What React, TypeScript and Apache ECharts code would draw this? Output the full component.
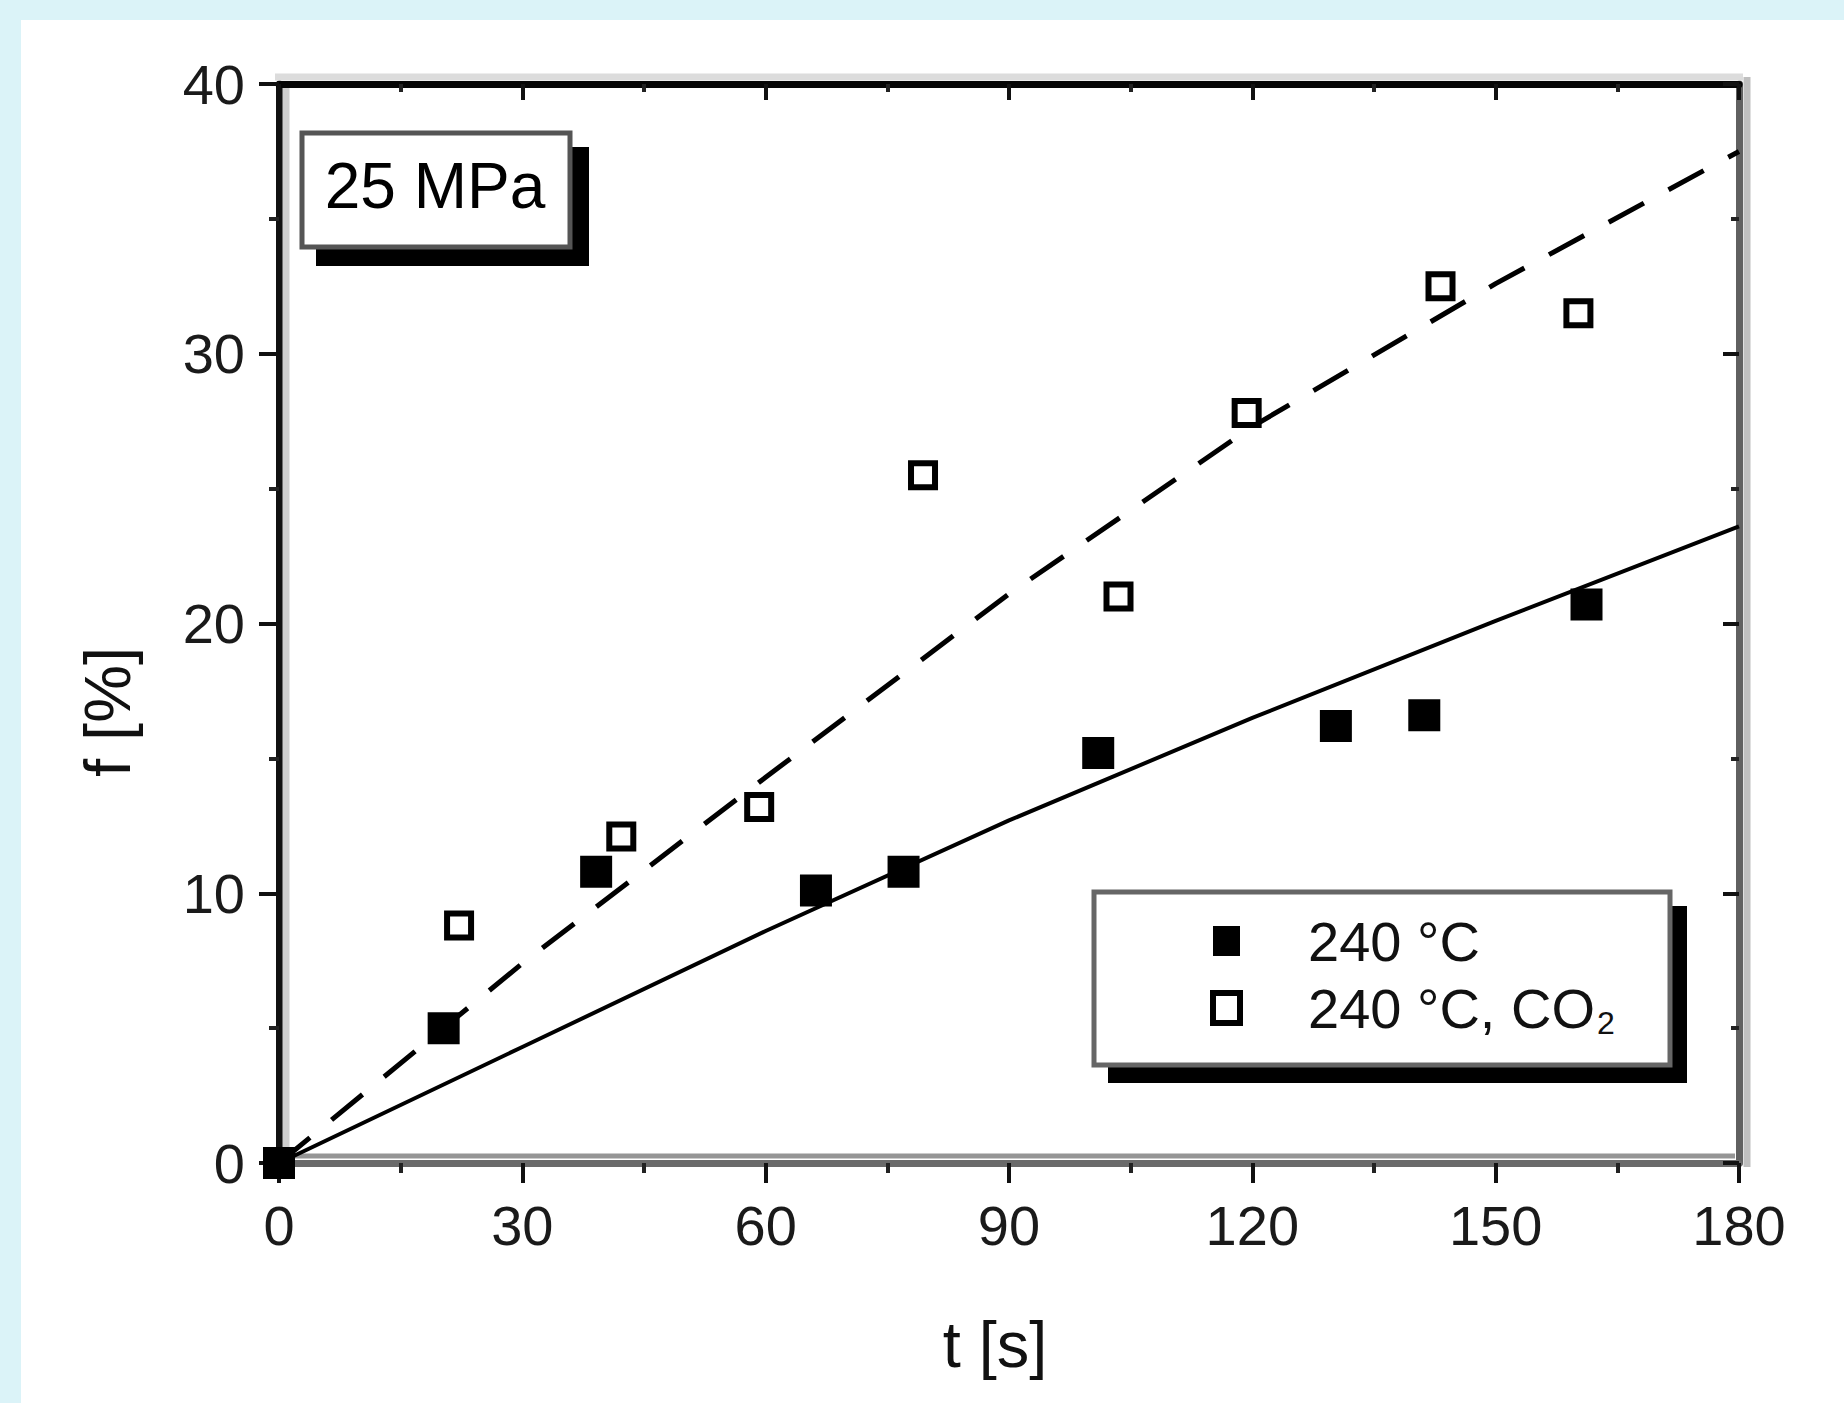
import React, { useEffect, useRef } from "react";
import * as echarts from "echarts";

// ---- data ----
const S1 = "240 °C";
const S2 = "240 °C, CO2";
const tFilled = [0, 20.3, 39.1, 66.2, 77.0, 101.0, 130.3, 141.2, 161.2];
const fFilled = [0, 5.0, 10.8, 10.1, 10.8, 15.2, 16.2, 16.6, 20.7];
const tOpen = [22.2, 42.2, 59.2, 79.4, 103.5, 119.3, 143.2, 160.2];
const fOpen = [8.8, 12.1, 13.2, 25.5, 21.0, 27.8, 32.5, 31.5];
const tLine = [0, 30, 60, 90, 120, 150, 180];
const fSolid = [0, 4.3, 8.6, 12.7, 16.5, 20.1, 23.6];
const fDashed = [0, 7.4, 14.3, 21.1, 27.3, 32.6, 37.5];
const xTicks = { min: 0, max: 180, interval: 30 };
const yTicks = { min: 0, max: 40, interval: 10 };
const xTitle = "t [s]";
const yTitle = "f [%]";
const boxTitle = "25 MPa";

const FONT = "Liberation Sans, Arial, sans-serif";
const pairs = (a: number[], b: number[]) => a.map((v, i) => [v, b[i]]);

export default function App() {
  const ref = useRef<HTMLDivElement>(null);
  useEffect(() => {
    if (!ref.current) return;
    const chart = echarts.init(ref.current, null, { renderer: "svg" });
    const L = 258, R = 1718, T = 64, B = 1143;
    const baseAxis = (inside: boolean, lineColor: string, labels: boolean, margin: number) => ({
      type: "value",
      axisLine: { show: true, onZero: false, lineStyle: { color: lineColor, width: 7 } },
      axisTick: { show: true, inside, length: inside ? 16 : 20, lineStyle: { color: "#111", width: 4 } },
      minorTick: { show: true, splitNumber: 2, length: inside ? 8 : 10, lineStyle: { color: "#222", width: 4 } },
      axisLabel: { show: labels, margin, fontSize: 56, fontFamily: FONT, color: "#1a1a1a" },
      splitLine: { show: false },
    });
    const option: any = {
      animation: false,
      backgroundColor: "#ffffff",
      grid: { left: L, right: 1823 - R, top: T, bottom: 1383 - B, containLabel: false },
      xAxis: [
        { ...baseAxis(false, "#6a6a6a", true, 34), position: "bottom", ...xTicks },
        { ...baseAxis(true, "#050505", false, 0), position: "top", ...xTicks },
      ],
      yAxis: [
        { ...baseAxis(false, "#111111", true, 34), position: "left", ...yTicks },
        { ...baseAxis(true, "#606060", false, 0), position: "right", ...yTicks },
      ],
      legend: {
        orient: "vertical",
        left: 1189,
        top: 893,
        padding: 0,
        itemWidth: 27,
        itemHeight: 30,
        itemGap: 11,
        selectedMode: false,
        icon: "rect",
        data: [
          { name: S1, itemStyle: { color: "#000", borderWidth: 0, opacity: 1 } },
          { name: S2, itemStyle: { color: "#fff", borderColor: "#000", borderWidth: 6, opacity: 1 } },
        ],
        formatter: (n: string) => (n === S2 ? "{a|240 °C, CO}{s|2}" : "{a|240 °C}"),
        textStyle: {
          fontSize: 56,
          fontFamily: FONT,
          color: "#111",
          lineHeight: 56,
          rich: {
            a: { fontSize: 56, fontFamily: FONT, color: "#111", padding: [0, 0, 0, 63] },
            s: { fontSize: 32, fontFamily: FONT, color: "#111", padding: [30, 0, 0, 2] },
          },
        },
      },
      graphic: [
        { type: "line", z: 1, shape: { x1: 265, y1: T + 4, x2: 265, y2: B - 4 }, style: { stroke: "#cfcfcf", lineWidth: 7 } },
        { type: "line", z: 1, shape: { x1: L - 4, y1: 57, x2: R + 4, y2: 57 }, style: { stroke: "#dcdcdc", lineWidth: 7 } },
        { type: "line", z: 1, shape: { x1: 1726, y1: 57, x2: 1726, y2: B + 4 }, style: { stroke: "#bfbfbf", lineWidth: 7 } },
        { type: "line", z: 1, shape: { x1: L + 4, y1: 1136, x2: R - 4, y2: 1136 }, style: { stroke: "#959595", lineWidth: 5 } },
        // title box
        { type: "rect", z: 10, shape: { x: 295, y: 127, width: 273, height: 119 }, style: { fill: "#000" } },
        { type: "rect", z: 11, shape: { x: 281, y: 113, width: 268, height: 114 }, style: { fill: "#fff", stroke: "#555", lineWidth: 5 } },
        {
          type: "text", z: 12, x: 414, y: 166,
          style: { text: boxTitle, fontSize: 64, fontFamily: FONT, fill: "#000", align: "center", verticalAlign: "middle" },
        },
        // legend box
        { type: "rect", z: 3, shape: { x: 1087, y: 886, width: 579, height: 177 }, style: { fill: "#000" } },
        { type: "rect", z: 4, shape: { x: 1073, y: 872, width: 576, height: 173 }, style: { fill: "#fff", stroke: "#666", lineWidth: 5 } },
        // axis titles
        {
          type: "text", x: 974, y: 1324,
          style: { text: xTitle, fontSize: 65, fontFamily: FONT, fill: "#111", align: "center", verticalAlign: "middle" },
        },
        {
          type: "text", x: 86, y: 692, rotation: Math.PI / 2,
          style: { text: yTitle, fontSize: 65, fontFamily: FONT, fill: "#111", align: "center", verticalAlign: "middle" },
        },
      ],
      series: [
        {
          name: "fit solid", type: "line", data: pairs(tLine, fSolid), showSymbol: false, symbol: "none",
          lineStyle: { color: "#000", width: 4 }, z: 3, silent: true,
        },
        {
          name: "fit dashed", type: "line", data: pairs(tLine, fDashed), showSymbol: false, symbol: "none",
          lineStyle: { color: "#000", width: 5, type: [40, 28] }, z: 3, silent: true,
        },
        {
          name: S1, type: "scatter", data: pairs(tFilled, fFilled), symbol: "rect", symbolSize: 32,
          itemStyle: { color: "#000", opacity: 1 }, z: 5, clip: false,
        },
        {
          name: S2, type: "scatter", data: pairs(tOpen, fOpen), symbol: "rect", symbolSize: 24,
          itemStyle: { color: "#fff", borderColor: "#000", borderWidth: 6, opacity: 1 }, z: 5, clip: false,
        },
      ],
    };
    chart.setOption(option);
    return () => chart.dispose();
  }, []);
  return (
    <div style={{ position: "fixed", left: 0, top: 0, width: 1844, height: 1403, background: "#dbf3f8" }}>
      <div ref={ref} style={{ position: "absolute", left: 21, top: 20, width: 1823, height: 1383, background: "#fff" }} />
    </div>
  );
}
